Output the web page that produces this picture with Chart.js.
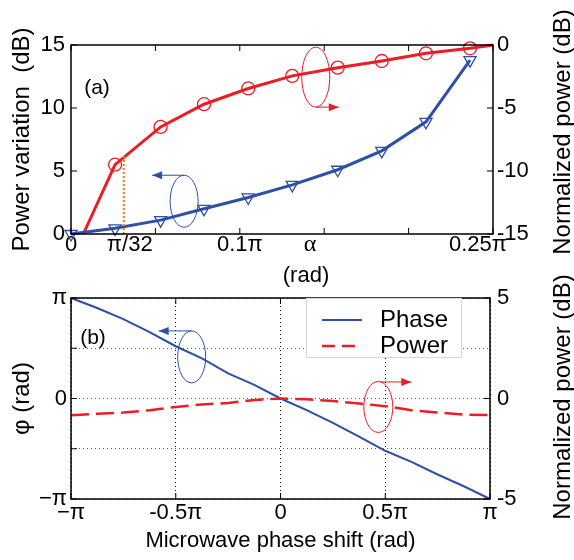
<!DOCTYPE html>
<html>
<head>
<meta charset="utf-8">
<script src="https://cdn.jsdelivr.net/npm/chart.js@4.4.0/dist/chart.umd.min.js"></script>
<style>
  body { margin: 0; background: #fff; }
  #wrapA { position: absolute; left: 0; top: 0; }
  #wrapB { position: absolute; left: 0; top: 260px; }
</style>
</head>
<body>
<div id="wrapA"><canvas id="chartA" width="574" height="290"></canvas></div>
<div id="wrapB"><canvas id="chartB" width="574" height="300"></canvas></div>
<script>
// ---- panel (a): x values in units of pi ----
const alphaMarks = [0, 0.0261, 0.0531, 0.0788, 0.1050, 0.1311, 0.1580, 0.1841, 0.2103, 0.2364];
const powerVariation = [0, 0.45, 1.1, 2.0, 2.9, 3.9, 5.1, 6.6, 8.9, 13.8];
// normalized power curve: first and last points are line ends only (no marker)
const normAlpha = [0.0073, 0.0261, 0.0531, 0.0788, 0.1050, 0.1311, 0.1580, 0.1841, 0.2103, 0.2364, 0.25];
const normPower = [-15, -9.5, -6.5, -4.7, -3.45, -2.45, -1.8, -1.27, -0.66, -0.26, 0];
const cutAlpha = [1 / 32, 1 / 32];
const cutPower = [-15, -8.8];

const ticksAx = [0, 0.05, 0.1, 0.15, 0.2, 0.25];
const labelsAx = ['0', '', '0.1π', '', '', ''];
const ticksAy = [0, 5, 10, 15];
const ticksAy1 = [-15, -10, -5, 0];

// ---- panel (b): x and phase in units of pi ----
const shift = [-1, -0.875, -0.75, -0.625, -0.5, -0.375, -0.25, -0.125, 0, 0.125, 0.25, 0.375, 0.5, 0.625, 0.75, 0.875, 1];
const phase = [1.0, 0.9, 0.79, 0.66, 0.52, 0.4, 0.25, 0.135, 0, -0.116, -0.243, -0.38, -0.52, -0.63, -0.756, -0.873, -1.0];
const powerB = [-0.83, -0.76, -0.70, -0.58, -0.42, -0.3, -0.22, -0.08, 0, -0.04, -0.13, -0.25, -0.38, -0.58, -0.70, -0.8, -0.83];

const ticksBx = [-1, -0.5, 0, 0.5, 1];
const labelsBx = ['−π', '-0.5π', '0', '0.5π', 'π'];
const ticksBy = [-1, -0.5, 0, 0.5, 1];
const labelsBy = ['−π', '', '0', '', 'π'];
const ticksBy1 = [-5, 0, 5];

const BLUE = '#2d4fa6';
const RED = '#ec1c24';
const FONT = "'Liberation Sans', Arial, sans-serif";

const pts = (xs, ys) => xs.map((x, i) => ({ x: x, y: ys[i] }));
const setTicks = arr => s => { s.ticks = arr.map(v => ({ value: v })); };

function frame(chart) {
  const { ctx, chartArea: a, scales } = chart;
  ctx.save();
  ctx.setLineDash([]);
  ctx.strokeStyle = '#000';
  ctx.lineWidth = 1;
  ctx.beginPath();
  const L = 6;
  scales.x.ticks.forEach(t => {
    const p = scales.x.getPixelForValue(t.value);
    ctx.moveTo(p, a.bottom); ctx.lineTo(p, a.bottom - L);
    ctx.moveTo(p, a.top); ctx.lineTo(p, a.top + L);
  });
  scales.y.ticks.forEach(t => {
    const p = scales.y.getPixelForValue(t.value);
    ctx.moveTo(a.left, p); ctx.lineTo(a.left + L, p);
  });
  scales.y1.ticks.forEach(t => {
    const p = scales.y1.getPixelForValue(t.value);
    ctx.moveTo(a.right, p); ctx.lineTo(a.right - L, p);
  });
  ctx.stroke();
  ctx.lineWidth = 1.5;
  ctx.strokeRect(a.left, a.top, a.right - a.left, a.bottom - a.top);
  ctx.restore();
}

function loop(ctx, cx, cy, rx, ry, color, fromX, toX, ay) {
  ctx.save();
  ctx.strokeStyle = color;
  ctx.fillStyle = color;
  ctx.lineWidth = 1;
  ctx.setLineDash([]);
  ctx.beginPath();
  ctx.ellipse(cx, cy, rx, ry, 0, 0, Math.PI * 2);
  ctx.stroke();
  ctx.beginPath();
  ctx.moveTo(fromX, ay);
  ctx.lineTo(toX, ay);
  ctx.stroke();
  const d = toX > fromX ? 1 : -1;
  ctx.beginPath();
  ctx.moveTo(toX, ay);
  ctx.lineTo(toX - d * 10, ay - 4);
  ctx.lineTo(toX - d * 10, ay + 4);
  ctx.closePath();
  ctx.fill();
  ctx.restore();
}

function rotText(ctx, text, x, y, font) {
  ctx.save();
  ctx.translate(x, y);
  ctx.rotate(-Math.PI / 2);
  ctx.font = font;
  ctx.fillStyle = '#000';
  ctx.textAlign = 'center';
  ctx.textBaseline = 'middle';
  ctx.fillText(text, 0, 0);
  ctx.restore();
}

const decorA = {
  id: 'decorA',
  afterDraw(chart) {
    const { ctx, scales: { x, y, y1 } } = chart;
    frame(chart);
    ctx.save();
    ctx.fillStyle = '#000';
    ctx.textBaseline = 'middle';
    ctx.textAlign = 'center';
    ctx.font = '22px ' + FONT;
    ctx.fillText('π/32', x.getPixelForValue(1 / 32) + 6, 245);
    ctx.fillText('0.25π', x.getPixelForValue(0.25) - 15, 245);
    ctx.fillText('(rad)', 306, 276);
    ctx.font = "24px 'Liberation Serif', serif";
    ctx.fillText('α', x.getPixelForValue(0.1416), 245);
    ctx.font = '21px ' + FONT;
    ctx.fillText('(a)', 97, 88);
    ctx.restore();
    rotText(ctx, 'Normalized power (dB)', 563, 132, '24px ' + FONT);

    const bx = x.getPixelForValue(0.067), by = y.getPixelForValue(2.6);
    loop(ctx, bx, by, 14, 26, BLUE, bx, bx - 32, by - 26);
    const rx = x.getPixelForValue(0.145), ry = y1.getPixelForValue(-2.55);
    loop(ctx, rx, ry, 14, 30, RED, rx, rx + 23, ry + 30);
  }
};

const decorB = {
  id: 'decorB',
  afterDraw(chart) {
    const { ctx, scales: { x, y, y1 } } = chart;
    frame(chart);
    rotText(ctx, 'Normalized power (dB)', 563, 137, '24px ' + FONT);
    ctx.save();
    ctx.fillStyle = '#000';
    ctx.textBaseline = 'middle';
    ctx.textAlign = 'center';
    ctx.font = '21px ' + FONT;
    ctx.fillText('(b)', 93, 78);
    // legend box
    ctx.fillStyle = '#fff';
    ctx.fillRect(306, 38, 156, 60);
    ctx.strokeStyle = '#d8d8d8';
    ctx.lineWidth = 1;
    ctx.strokeRect(306.5, 38.5, 155, 59);
    ctx.lineWidth = 2;
    ctx.strokeStyle = BLUE;
    ctx.beginPath(); ctx.moveTo(322, 60); ctx.lineTo(362, 60); ctx.stroke();
    ctx.strokeStyle = RED;
    ctx.lineWidth = 2.5;
    ctx.setLineDash([13, 7]);
    ctx.beginPath(); ctx.moveTo(322, 86); ctx.lineTo(362, 86); ctx.stroke();
    ctx.setLineDash([]);
    ctx.fillStyle = '#000';
    ctx.textAlign = 'left';
    ctx.font = '24px ' + FONT;
    ctx.fillText('Phase', 380, 60);
    ctx.fillText('Power', 380, 86);
    ctx.restore();

    const bx = x.getPixelForValue(-0.424), by = y.getPixelForValue(0.414);
    loop(ctx, bx, by, 14, 26, BLUE, bx, bx - 33, by - 26);
    const rx = x.getPixelForValue(0.467), ry = y1.getPixelForValue(-0.42);
    loop(ctx, rx, ry, 14.5, 25.5, RED, rx + 2, rx + 33, ry - 25);
  }
};

const tickFont = { family: FONT, size: 22, lineHeight: 1 };
const titleFont = { family: FONT, size: 24 };

new Chart(document.getElementById('chartA'), {
  type: 'scatter',
  data: {
    datasets: [
      {
        data: pts(cutAlpha, cutPower), yAxisID: 'y1', showLine: true,
        borderColor: '#f07a1c', borderWidth: 2, borderDash: [2, 2], pointRadius: 0
      },
      {
        data: pts(alphaMarks, powerVariation), yAxisID: 'y', showLine: true,
        borderColor: BLUE, borderWidth: 3, pointStyle: 'triangle', rotation: 180,
        pointRadius: 7, pointBorderColor: BLUE, pointBorderWidth: 1.3,
        pointBackgroundColor: 'rgba(0,0,0,0)'
      },
      {
        data: pts(normAlpha, normPower), yAxisID: 'y1', showLine: true,
        borderColor: RED, borderWidth: 3, pointStyle: 'circle',
        pointRadius: c => (c.dataIndex === 0 || c.dataIndex === normAlpha.length - 1) ? 0 : 6.5,
        pointBorderColor: RED, pointBorderWidth: 1.3, pointBackgroundColor: 'rgba(0,0,0,0)'
      }
    ]
  },
  options: {
    responsive: false,
    animation: false,
    events: [],
    clip: false,
    layout: { padding: { top: 45, left: 0, right: 0, bottom: 0 } },
    plugins: { legend: { display: false }, tooltip: { enabled: false } },
    scales: {
      x: {
        type: 'linear', min: 0, max: 0.25,
        afterBuildTicks: setTicks(ticksAx),
        afterFit: s => { s.height = 56; },
        grid: { display: false, drawTicks: false },
        border: { display: false },
        ticks: { font: tickFont, color: '#000', padding: 0, maxRotation: 0,
          callback: (v, i) => labelsAx[i] }
      },
      y: {
        position: 'left', min: 0, max: 15,
        afterBuildTicks: setTicks(ticksAy),
        afterFit: s => { s.width = 71; },
        grid: { display: false, drawTicks: false },
        border: { display: false },
        ticks: { font: tickFont, color: '#000', padding: 6 },
        title: { display: true, text: 'Power variation  (dB)', font: titleFont, color: '#000',
          padding: { top: 8, bottom: 0 } }
      },
      y1: {
        position: 'right', min: -15, max: 0,
        afterBuildTicks: setTicks(ticksAy1),
        afterFit: s => { s.width = 81; },
        grid: { display: false, drawTicks: false },
        border: { display: false },
        ticks: { font: tickFont, color: '#000', padding: 4 }
      }
    }
  },
  plugins: [decorA]
});

new Chart(document.getElementById('chartB'), {
  type: 'scatter',
  data: {
    datasets: [
      {
        data: pts(shift, powerB), yAxisID: 'y1', showLine: true,
        borderColor: RED, borderWidth: 2.5, borderDash: [18, 7], pointRadius: 0
      },
      {
        data: pts(shift, phase), yAxisID: 'y', showLine: true,
        borderColor: BLUE, borderWidth: 2, pointRadius: 0
      }
    ]
  },
  options: {
    responsive: false,
    animation: false,
    events: [],
    clip: false,
    layout: { padding: { top: 38, left: 0, right: 0, bottom: 0 } },
    plugins: { legend: { display: false }, tooltip: { enabled: false } },
    scales: {
      x: {
        type: 'linear', min: -1, max: 1,
        afterBuildTicks: setTicks(ticksBx),
        afterFit: s => { s.height = 61; },
        grid: { color: '#000', lineWidth: 1, drawTicks: false },
        border: { display: false, dash: [1, 3] },
        ticks: { font: tickFont, color: '#000', padding: 3, maxRotation: 0,
          callback: (v, i) => labelsBx[i] },
        title: { display: true, text: 'Microwave phase shift (rad)', font: { family: FONT, size: 22 },
          color: '#000', padding: { top: 0, bottom: 6 } }
      },
      y: {
        position: 'left', min: -1, max: 1,
        afterBuildTicks: setTicks(ticksBy),
        afterFit: s => { s.width = 71; },
        grid: { color: '#3c5ccc', lineWidth: 1, drawTicks: false },
        border: { display: false, dash: [1, 3] },
        ticks: { font: tickFont, color: '#000', padding: 4,
          callback: (v, i) => labelsBy[i] },
        title: { display: true, text: 'φ (rad)', font: titleFont, color: '#000',
          padding: { top: 8, bottom: 0 } }
      },
      y1: {
        position: 'right', min: -5, max: 5,
        afterBuildTicks: setTicks(ticksBy1),
        afterFit: s => { s.width = 84; },
        grid: { display: false, drawTicks: false },
        border: { display: false },
        ticks: { font: tickFont, color: '#000', padding: 7 }
      }
    }
  },
  plugins: [decorB]
});
</script>
</body>
</html>
